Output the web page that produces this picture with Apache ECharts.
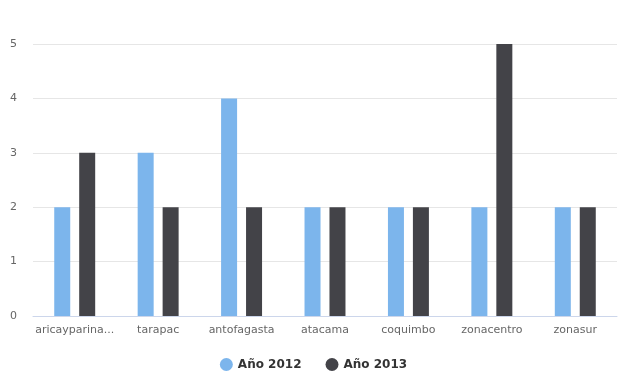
<!DOCTYPE html>
<html><head><meta charset="utf-8">
<script src="https://cdn.jsdelivr.net/npm/echarts@6/dist/echarts.min.js"></script>
<style>html,body{margin:0;padding:0;background:#fff}#c{width:627px;height:376px}</style>
</head><body><div id="c"></div>
<script>
const categories = ["aricayparina...", "tarapac", "antofagasta", "atacama", "coquimbo", "zonacentro", "zonasur"];
const values2012 = [2, 3, 4, 2, 2, 2, 2];
const values2013 = [3, 2, 2, 2, 2, 5, 2];
const yTicks = {min: 0, max: 5, interval: 1};
const seriesNames = ["Año 2012", "Año 2013"];

const font = "DejaVu Sans";
const chart = echarts.init(document.getElementById('c'));
chart.setOption({
  animation: false,
  grid: {left: 33, right: 10, top: 44, bottom: 60, containLabel: false},
  legend: {
    top: 353, left: 'center', icon: 'circle', itemWidth: 13, itemHeight: 13, itemGap: 24,
    textStyle: {fontFamily: font, fontSize: 12, fontWeight: 'bold', color: '#333'},
    data: seriesNames
  },
  xAxis: {
    type: 'category', data: categories,
    axisLine: {lineStyle: {color: '#ccd6eb'}},
    axisTick: {show: false},
    axisLabel: {fontFamily: font, fontSize: 11, color: '#666', margin: 9, interval: 0}
  },
  yAxis: {
    type: 'value', min: yTicks.min, max: yTicks.max, interval: yTicks.interval,
    axisLine: {show: false}, axisTick: {show: false},
    splitLine: {lineStyle: {color: '#e6e6e6'}},
    axisLabel: {fontFamily: font, fontSize: 11, color: '#666', margin: 16}
  },
  series: [
    {name: seriesNames[0], type: 'bar', data: values2012, barWidth: 16, barGap: '56%', itemStyle: {color: '#7cb5ec'}},
    {name: seriesNames[1], type: 'bar', data: values2013, barWidth: 16, itemStyle: {color: '#434348'}}
  ]
});
</script></body></html>
